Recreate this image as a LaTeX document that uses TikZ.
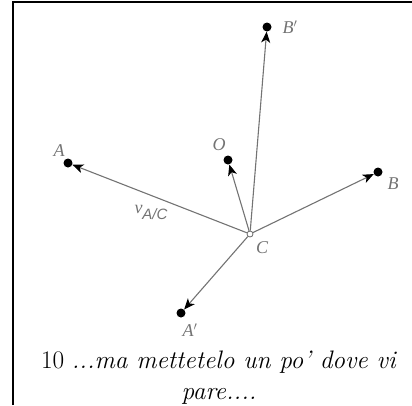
\documentclass[tikz,border=0pt]{standalone}
\usepackage{fontspec}
\newfontfamily\labfont{Liberation Serif}
\newfontfamily\subfont{Liberation Sans}
\usetikzlibrary{arrows.meta}
\begin{document}
\begin{tikzpicture}[x=1pt,y=-1pt,
  dot/.style={circle,fill=black,inner sep=0pt,minimum size=9pt},
  vec/.style={draw=black!55,line width=1.1pt,-{Stealth[length=11pt,width=9pt,inset=3pt,black]}},
  lab/.style={text=black!55,font=\labfont\itshape\fontsize{18}{18}\selectfont,inner sep=0pt},
  frameline/.style={line width=2pt,black}]
\useasboundingbox (0,0) rectangle (412,405);
\draw[frameline] (13,405) -- (13,2) -- (412,2);
\node[circle,draw=black!60,fill=white,line width=0.8pt,inner sep=0pt,minimum size=6pt] (C) at (250,234) {};
\node[dot] (A) at (68,163) {};
\node[dot] (Bp) at (267,27) {};
\node[dot] (O) at (228,160) {};
\node[dot] (B) at (378,172) {};
\node[dot] (Ap) at (181,313) {};
\draw[vec] (C) -- (A);
\draw[vec] (C) -- (Bp);
\draw[vec] (C) -- (O);
\draw[vec] (C) -- (B);
\draw[vec] (C) -- (Ap);
\node[lab] (lA) at (59,151) {A};
\node[lab] (lBp) at (290,27) {B$'$};
\node[lab] (lO) at (219,145) {O};
\node[lab] (lB) at (393,184) {B};
\node[lab] (lAp) at (190,330) {A$'$};
\node[lab] (lC) at (262,248) {C};
\node[lab] (lv) at (151,212) {v\raisebox{-6pt}{\subfont\itshape\fontsize{15}{15}\selectfont A/C}};
\node[align=center,font=\fontsize{25.3}{31}\selectfont,inner sep=0pt] (cap) at (219,378) {10 \textit{...ma mettetelo un po’ dove vi}\\\textit{pare....}};
\end{tikzpicture}
\end{document}
